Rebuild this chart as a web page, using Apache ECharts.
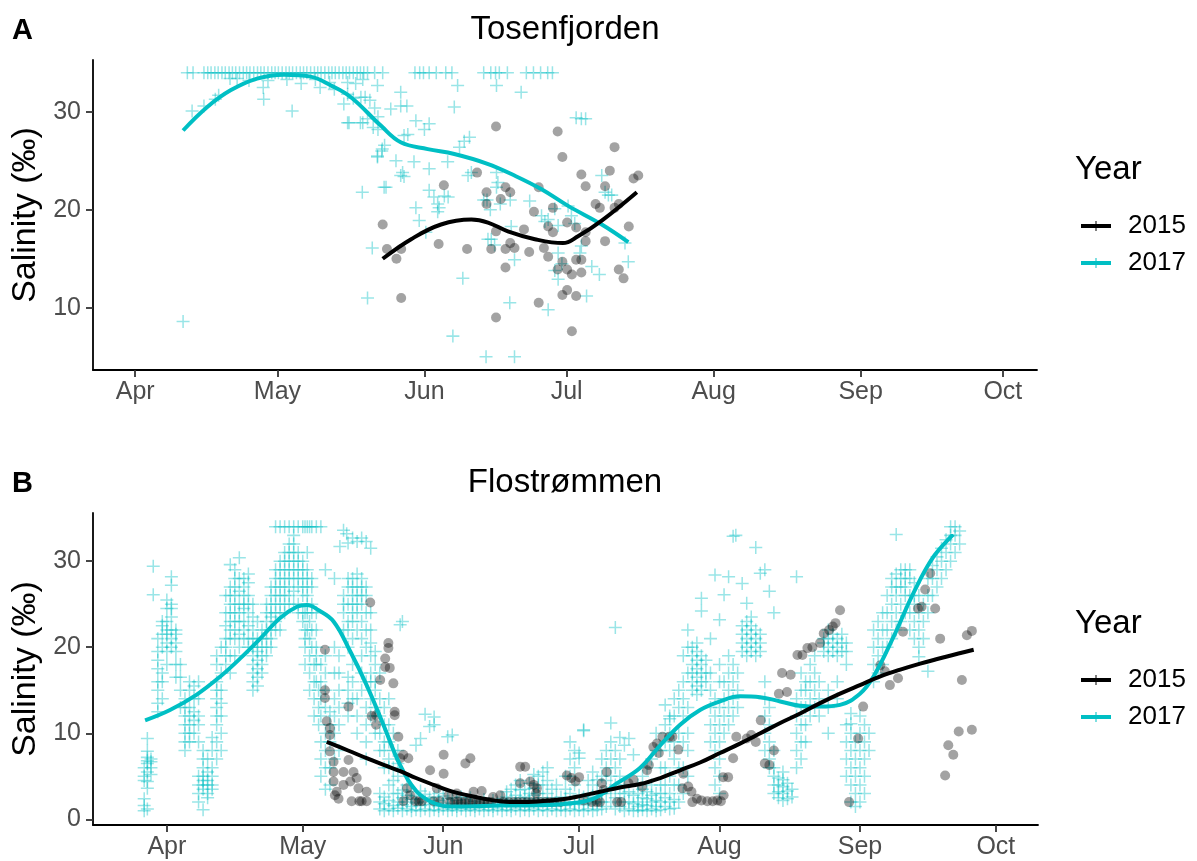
<!DOCTYPE html>
<html>
<head>
<meta charset="utf-8">
<script src="https://cdn.jsdelivr.net/npm/echarts@6/dist/echarts.min.js"></script>
<style>
  html, body { margin: 0; padding: 0; background: #fff; }
  #chart { width: 1197px; height: 861px; }
</style>
</head>
<body>
<div id="chart"></div>
<script>
// x values are days after 1 April; y values are salinity in permille.
const monthTicks = [0, 30, 61, 91, 122, 153, 183];
const monthLabels = ['Apr', 'May', 'Jun', 'Jul', 'Aug', 'Sep', 'Oct'];
const tosenTicks = [10, 20, 30];
const floTicks = [0, 10, 20, 30];

// Tosenfjorden, 2015 samples
const tosen2015 = [
  [52.2,18.5],[53.1,16.0],[56.1,16.0],[55.1,15.0],[56.1,11.0],[64.0,16.5],[65.1,22.5],[70.0,16.0],
  [72.1,23.8],[74.1,21.8],[74.1,20.6],[75.1,16.0],[76.1,28.5],[76.1,17.8],[77.1,21.1],[78.1,22.3],
  [79.1,21.8],[78.1,14.1],[78.1,16.0],[79.1,16.6],[80.0,16.1],[76.1,9.0],[82.0,18.0],[83.1,15.7],
  [84.1,19.8],[85.1,22.3],[85.1,10.5],[86.2,16.1],[87.1,18.3],[87.1,15.2],[88.1,20.2],[88.1,17.7],
  [89.1,28.0],[89.1,13.9],[90.1,25.4],[90.1,14.7],[91.1,18.7],[91.1,13.9],[90.1,11.3],[91.1,11.8],
  [92.1,13.4],[92.1,7.6],[93.0,18.2],[93.0,14.9],[93.0,11.2],[94.1,23.6],[94.1,14.9],[94.1,13.6],
  [95.0,22.4],[95.0,16.8],[95.0,17.7],[97.1,20.6],[98.0,20.2],[99.1,22.4],[99.1,16.8],[100.1,24.0],
  [101.1,26.4],[101.1,20.2],[102.0,13.9],[102.0,20.6],[103.0,13.0],[104.1,18.3],[105.1,23.2],[106.1,23.5]
];

// Tosenfjorden, 2017 samples
const tosen2017 = [
  [11,34],[12.2,34],[14.5,34],[15.3,34],[16,34],[16.8,34],[17.5,34],[18.3,34],[19,34],[19.8,34],
  [20.5,34],[21.2,34],[22,34],[22.8,34],[23.5,34],[24.2,34],[25,34],[25.8,34],[26.5,34],[27.2,34],
  [28,34],[28.8,34],[29.5,34],[30.2,34],[31,34],[31.8,34],[32.5,34],[33.2,34],[34,34],[34.8,34],
  [35.5,34],[36.2,34],[37,34],[37.8,34],[38.5,34],[39.2,34],[40,34],[40.8,34],[41.5,34],[42.2,34],
  [43,34],[43.8,34],[44.5,34],[45.2,34],[46,34],[46.8,34],[47.5,34],[48.2,34],[49,34],[50.5,34],
  [52.2,34],[59,34],[60,34],[60.8,34],[62,34],[63.5,34],[65.5,34],[66.8,34],[73.5,34],[75,34],
  [76,34],[76.8,34],[78.5,34],[82.5,34],[84,34],[85.5,34],[87,34],[88,34],
  [20,33.4],[24,33.2],[27,32.5],[28,33.2],[32,33.3],[35,32.9],[38,33.3],[41,33],[44.8,33.0],[46.5,32.9],[48,33.3],
  [10.1,8.6],[12.0,30.1],[14.5,30.6],[16.9,31.3],[17.6,31.7],[21.5,33.4],[27.1,31.3],[33.1,30.1],
  [44.8,31.8],[47.6,31.5],[48.5,31.5],[49.5,31.2],[50.5,30.4],[45.1,28.9],[48.0,28.9],[49.0,29.3],
  [50.2,28.4],[51.2,29.5],[51.2,28.2],[47.9,21.8],[50.0,16.1],[49.0,11.0],[51.1,25.4],[52.0,26.0],
  [52.6,26.6],[52.5,22.3],[55.0,25.0],[56.0,32.0],[56.4,23.8],[56.7,27.6],[51.1,32.7],[53.9,30.3],
  [56.0,30.6],[57.3,30.6],[59.2,29.1],[62.0,28.8],[67.3,30.5],[68.0,32.7],[76.2,32.7],[81.4,32.0],
  [94.1,29.3],[93,29.4],[95,29.3],[44.8,28.9],[47.5,28.9],[57.5,27.7],[61,28.2],[51.1,25.5],
  [52.1,26.2],[58.8,24.9],[62.0,24.2],[65.9,24.9],[68.4,26.4],[69.4,27.0],[70.5,27.4],[52.9,22.3],
  [56,23.5],[56.7,23.4],[62,22],[63,21.3],[63.8,20.6],[63.8,19.8],[64.1,20.2],[65.2,21.4],[66,21.3],
  [59.2,20.2],[59.9,18.9],[61.3,17.7],[70.2,23.5],[70.9,23.8],[76.2,23.8],[76.5,22.8],[76.2,22.3],
  [73.5,21.0],[74.2,21.0],[74.9,20.0],[77,20.6],[79.1,21.0],[74.4,17.0],[75.1,17.0],[75.8,16.4],
  [79.3,18.3],[80.0,14.9],[83.2,20.9],[85.7,19.4],[86.4,18.8],[87.1,19.0],[88.5,20.1],[89.2,18.4],
  [89.2,15.6],[90,14.5],[88.5,13.8],[89.2,12.9],[91.3,20.4],[92,19.4],[92.7,18.6],[93.8,15.6],
  [94.1,16.3],[98.4,23.5],[99.1,21.8],[99.8,21.5],[100.5,21.5],[96.3,14.2],[97.9,13.4],[95.2,11.2],
  [103.3,16.6],[104,14.7],[69.1,13.0],[79.0,10.5],[87.1,9.8],[67.0,7.1],[74.0,5.0],[80.0,5.0],
  [44,30.8],[46,31.4],[42,32.3],[39,32.5]
];

// Tosenfjorden, smoothed trends
const tosenSmooth2015 = [
  [52.2,15.0],[58.2,17.0],[64.5,18.5],[70.9,19.0],[74.4,18.7],[78.6,17.8],[84.3,17.0],[90.2,16.6],
  [93.4,17.3],[98.4,18.9],[105.8,21.8]
];
const tosenSmooth2017 = [
  [10.1,28.1],[15.2,30.5],[20.1,32.2],[25.7,33.4],[31.4,33.8],[37,33.6],[41.3,32.7],[45.5,31.5],
  [51.8,28.6],[56,26.9],[61.7,26.2],[67.3,25.7],[74.3,24.7],[80,23.5],[85.7,22.1],[91.3,20.4],
  [98.4,18.5],[104,16.7]
];

// Flostrømmen, 2015 samples
const flo2015 = [
  [34.9,19.7],[34.9,15.0],[34.9,14.1],[35.3,11.4],[36.0,10.6],[36.0,9.8],[36.0,7.9],[36.8,6.7],
  [36.8,5.5],[36.8,4.4],[37.5,3.2],[37.9,2.4],[37.1,2.8],[39.0,5.5],[39.0,4.0],[40.1,6.9],[40.1,13.1],
  [40.5,4.4],[41.2,5.5],[41.9,4.8],[42.3,3.6],[40.8,2.1],[43.0,2.1],[44.1,3.2],[44.1,2.1],[42.5,2.1],
  [44.9,25.2],[45.2,12.0],[46.2,12.1],[46.2,11.0],[47.1,16.2],[48.2,18.7],[48.2,17.7],[48.9,20.5],
  [48.9,19.9],[49.2,17.6],[50.0,15.8],[50.3,12.5],[50.3,12.1],[51.1,9.6],[51.5,7.1],[52.2,7.5],
  [53.3,7.1],[53.0,3.6],[53.7,2.8],[52.2,2.1],[54.8,2.1],[55.6,2.1],[56.3,2.1],[58.1,5.7],[59.6,3.6],
  [61.1,7.5],[61.1,5.3],[58.9,2.1],[60.3,2.1],[62.2,2.8],
  [62.5,2.0],[63.5,2.0],[64.3,2.0],[65.0,2.0],[65.8,2.0],[66.6,2.0],[67.5,2.0],[68.3,2.0],[69.2,2.0],
  [70.0,2.0],[70.8,2.0],[71.6,2.0],[65.9,6.5],[67.0,7.1],[67.7,3.2],[64,3.0],[69.5,3.3],[72,2.6],[73.6,2.8],
  [74.3,2.0],[75.5,2.0],[76.6,2.0],[77.5,2.0],[78.5,2.0],[79.5,2.0],[80.5,2.0],[81.5,2.0],[82.5,2.0],
  [83.5,2.0],[84.5,2.0],[85.5,2.0],[86.8,2.0],
  [78.0,6.1],[79.1,6.1],[78.0,4.2],[80.2,4.4],[81.0,4.0],[81.7,3.6],[81.5,3.0],
  [88.3,5.1],[89.3,4.8],[90.2,4.4],[91.0,4.9],[92.0,2.2],[93.8,2.0],[94.9,2.0],[95.6,2.0],[96.4,3.4],
  [96.0,4.2],[97.1,5.5],[99.4,2.0],[100.3,2.0],
  [101.9,4.2],[103.0,4.6],[104.9,3.8],[106.0,5.7],[106.4,6.3],[107.4,8.4],[108.2,8.8],[108.6,7.7],
  [109.4,9.6],[110.9,9.6],[111.6,9.6],[112.9,8.1],[114.0,5.3],[113.8,3.6],[115.1,3.8],[115.8,3.2],[116.0,2.0],
  [117.0,2.4],[118.0,2.2],[119.3,2.1],[120.5,2.1],[121.5,2.2],[122.3,2.1],[122.9,2.8],[122.8,4.9],[123.9,4.9],
  [125.0,7.1],[125.7,9.6],[128.0,9.4],[129.0,9.8],[130.0,9.0],[131.1,11.5],[132.0,6.5],[133.0,6.3],
  [134.0,8.0],[135.1,14.6],[136.9,14.8],[135.8,17.0],[137.7,16.8],[139.2,19.1],[140.3,19.1],[141.4,19.9],
  [142.5,20.0],[144.2,20.5],[145.0,21.6],[146.2,22.0],[147.0,22.4],[147.6,22.8],[148.6,24.3],[150.6,2.0],
  [152.6,9.4],[153.7,13.1],[157.5,17.9],[158.5,17.2],[159.6,15.6],[161.4,16.4],[162.5,21.8],[165.8,24.5],
  [166.6,24.7],[167.4,26.7],[168.5,28.6],[169.6,24.5],[170.7,21.0],[171.8,5.1],[172.5,8.6],[173.6,7.5],
  [174.8,10.2],[175.5,16.2],[176.6,21.4],[177.7,21.9],[177.7,10.4]
];

// Flostrømmen, 2017 samples grouped by day: [day, [salinities]]
const flo2017ByDay = [
  [-5,[1.0,1.6,2.4,4.5,5.0,6.0]],[-4.3,[1.2,3.6,4.4,5.5,6.5,6.8,7.2,7.9,9.4]],[-3.5,[5.2,6.0,6.7,7.0]],
  [-3,[29.4,26.1]],[-2,[12.5,13.5,15.0,16.0,17.5,18.5,19.5,21.0]],[-1,[14.0,16.0,17.0,20.0,21.5,22.5,23.0]],
  [0,[18.0,19.5,20.5,21.5,22.0,23.0,24.5,25.5]],[1,[20.0,21.0,22.0,23.5,24.5,25.0,27.2,28.2]],
  [2,[16.5,18.0,19.5,20.5,21.5,22.0]],[3,[13.0,15.0,16.5,18.0]],[4,[8,9,10,11,12,13,14]],
  [5,[9,10,11,12,13,15,16]],[6,[10,11.5,12.5,14,15.5]],[7,[2,3,4,5,9,11,12,14,16]],
  [8,[1.1,3.5,4,4.5,5,6,7,8]],[9,[2.5,3,4,4.5,5.5,7]],[10,[3.5,4,5,6,8,9.5]],
  [11,[7,9,11,12,13,14,15,16,18,19]],[12,[8,10,12,13.5,15,17,20]],[13,[18,19,20,21,22.5,24,26]],
  [14,[17,19,21,22,23,24,25,26,27,29.6]],[15,[19,21,22,23,24,25,26,27,28,29]],
  [16,[20,21.5,23,24,25,26.5,28,30.4]],[17,[21,22,23,24.5,25,26,27,28]],[18,[20,21,22.5,24,25,26,27.5,28.5]],
  [19,[15,16,17,18,19,20,21,22,23.5,25]],[20,[15.5,16.5,17.5,18.5,19.5,20,21,23]],[21,[17,18,19,20,21,22]],
  [22,[19,20,21,22,23,24,25]],[23,[20,21,22,23.5,24,25,26,27]],[24,[22,23,24,25,26,27,28,29,34]],
  [25,[22,24,25,26,27,28,29,30,34]],[26,[24,25,26,27,28,29,30,31,34]],[27,[25,26,27,28,29,30,31,32,34]],
  [28,[25,26.5,28,29,30,31,32,33,34]],[29,[24,25,27,28,29,30,31,34]],[30,[23,24,26,27,28,29,30,34]],
  [30.5,[18,20,21,22,24,34]],[31,[22,24,25,26,27,28,29,31,34]],[31.5,[15,17,19,21,23,34]],
  [32,[20,22,24,25,27,28,34]],[32.5,[12,14,16,18]],[33,[16,18,19,20,22,24,34]],[33.5,[11,13,15]],
  [34,[5,7,9,12,14,16,18,34]],[35,[3.5,6,8,10,13,15,17,19,29]],[36,[4,6,9,11,12.5]],
  [37,[7,10,12,14,17,20,28]],[38,[8,11,13,15,17,19]],[38.2,[31.7]],[39,[22,24,25,26,33.6]],[39.7,[33.2]],
  [40,[12,13.5,15,16.5,20,22,23,25,27,28,32.1]],[41,[14,16,18,21,23,24,25,26,27,28,32.7]],
  [42,[10,12,14,22,24,25,26,27,28.5,32.3]],[43,[15,17,19,21,23,25,26,27,28,32.7]],
  [44,[7,9,11,13,16,20,22,24,26,27,32.3]],[45,[12,14,16,17,19,20.5,22,24,31.5]],[46,[10,12,13,15,16,18,19.5]],
  [47,[1.2,2,3,8,10,12,14,17]],[48,[1,1.8,2.6,6,8,9,11,13]],[49,[1.2,2.2,4,6,7,9,11,14]],
  [50,[1,1.6,3,4.5,6,8,10]],[51,[1.3,2,3,5,6.5,8]],[51.5,[22.6]],[52,[1,1.7,2.5,3.4,23]],
  [53,[1.2,2,2.8,4]],[54,[1,1.5,2.3,3.2]],[55,[1.1,1.9,2.7,8.6]],[56,[1,1.6,2.4,3.3,9.4]],
  [57,[1.2,2,2.9,12.2]],[58,[1,1.7,2.5,10.8]],[59,[1.1,1.8,2.6,11.0,11.9]],[60,[1,1.5,2.2,3]],
  [61,[1.2,1.9,2.7]],[62,[1,1.6,2.4,9.6]],[63,[1.1,1.8,2.5,9.8]],[64,[1,1.5,2.2]],[65,[1.2,1.9,2.6]],
  [66,[1,1.6,2.3]],[67,[1.1,1.8,2.5]],[68,[1,1.5,2.1]],[69,[1.2,1.9]],[70,[1,1.6,2.3]],[71,[1.1,1.8]],
  [72,[1,1.5,2.2]],[73,[1.2,1.9]],[74,[1,1.6,2.4]],[75,[1.1,1.8,2.6,3.2]],[76,[1,1.5,2.3,3.5]],
  [77,[1.2,2,2.8,4]],[78,[1,1.7,2.5,3.4,4.5]],[79,[1.1,1.8,2.6,3.5]],[80,[1,1.6,2.4,3,4.2]],
  [81,[1.2,2,2.8,3.6,5.2]],[82,[1,1.8,3,4,5]],[83,[1.1,2.5,4,5.5]],[84,[1,1.9,3,4.5,6]],[85,[1.2,2,3.5]],
  [86,[1,1.7,2.5,4]],[87,[1.1,1.8,2.6]],[88,[1,1.6,2.4,3.5,5]],[89,[1.2,2,3,5,7,9]],[90,[1,1.8,2,4,6,8]],
  [91,[1.1,1.9,2.8,7.1,7.7]],[92,[1,1.7,2.6,10.3,10.4]],[93,[1.2,2,3,4.5]],[94,[1,1.8,2.7,4,5.5]],
  [95,[1.1,2,3.2,4.6]],[96,[1.2,2,3,5,7]],[97,[1.5,3,4.5,6,8]],[98,[2,3.5,5,7,9,11.2]],
  [99,[1.2,2.5,4,6,8,22.3]],[100,[1.5,3,5,7,9.5]],[101,[1,2,3,4,8.6]],[102,[1.2,2,3.2,9.4]],
  [103,[1,1.8,2.8,7.5]],[104,[1,1.5,2,3,4]],[105,[1.1,1.7,2.5,3.5,5]],[106,[1,1.6,2.4,3.2,6]],
  [107,[1.2,2,2.8,4,7]],[108,[1,1.5,2.2,3,8,10]],[109,[1.1,2,3,4,6,8]],[110,[1.5,2.5,4,6,9,11,13.3]],
  [111,[1.2,2,3,5,8,10,12,11.7]],[112,[1.3,2.3,4,7,9,12,14]],[113,[2,4,6,10,13,15]],
  [114,[3,6,9,12,14,16,19]],[115,[5,8,10,13,17,20,22]],[116,[15,16,17,18,19,20]],
  [117,[14.5,15.5,16.5,17.5,18.5,19.5,20.5]],[118,[15,16,17,18,19,24.2,25.7]],[119,[16,17,18.5]],
  [120,[9,11,13,15,17,21]],[121,[4,6,8,10,12,14,28.4]],[122,[3,5,7,9,11,13,16,18,23.2]],
  [123,[10,12,14,16,26.1]],[124,[11,13,15,17,19,28.2]],[125,[12,14,16,18,32.9]],[125.6,[33.0]],
  [126,[13,15,17]],[127,[19.5,20.5,21.5,22.5,27.4]],[128,[19,20,21,22,23,25.1]],
  [129,[19.5,20.5,21.5,22.5,23.5]],[130,[19,20,21,22,31.6]],[131,[19.5,20.5,21.5,28.6]],
  [132,[8,10,12,14,16,29]],[133,[6,7,9,11,13,26.5]],[134,[3,4,5,6,8,24]],[135,[2.5,3.2,4,4.8]],
  [136,[2.2,3,3.8,4.6,5.5]],[137,[2.4,3.3,4.2]],[138,[2.6,3.5]],[139,[6,8,10,12,14,28.2]],
  [140,[7,9,11,13,15,17]],[141,[9,11,13,15,16]],[142,[12,14,16,18]],[143,[13,15,17,19]],
  [144,[12,14,16]],[145,[19.5,20.5,21]],[146,[10,13,15,19,20,21,22]],[147,[19.5,20.5,21.5]],
  [148,[14,16,19,20,21]],[149,[19.5,20.5,21.5]],[150,[5,7,9,11,18,19.5,20.5]],
  [151,[2,4,6,8,10,11.1,12.3]],[152,[1.5,3,5,7,9]],[153,[2,4,6,8,10,12]],[154,[3,5,7,9,11]],
  [155,[8,10]],[156,[16,18,20,22]],[157,[17,19,21,23]],[158,[18,20,22,24]],[159,[20,22,24,26]],
  [160,[21,23,25,27,28]],[161,[22,24,26,27,28.5,33.1]],[162,[23,25,27,28,29]],[163,[24,26,27,28,29]],
  [164,[22,24,26,28,29]],[165,[21,23,25,26,27.5]],[166,[18.9,20,22,24,26]],[167,[21,23,25]],
  [168,[17.2,24,26,28]],[169,[26,28,29.5]],[170,[27,29,30.5]],[171,[28,30,31.5]],[172,[29,31,32.5]],
  [173,[30,32,33,34]],[174,[31,33,34]],[175,[32,33.5]]
];

// Flostrømmen, smoothed trends
const floSmooth2015 = [
  [35.3,9.0],[40,8.0],[44.1,7.1],[48,6.3],[51.5,5.6],[55,4.8],[58.9,4.0],[62.5,3.3],[66.3,2.8],
  [70,2.4],[73.6,2.1],[78,2.0],[82.4,2.1],[86.8,2.3],[91.2,2.7],[95.6,3.2],[100,3.7],[104.5,4.1],
  [108.9,4.8],[113.3,5.7],[117.7,6.6],[122.1,7.7],[126.5,8.8],[131,10.0],[135.4,11.2],[139.8,12.3],
  [144.2,13.5],[148.6,14.6],[153,15.6],[157.5,16.6],[161.9,17.4],[166.3,18.1],[172,18.9],[178.1,19.7]
];
const floSmooth2017 = [
  [-4.8,11.5],[0.7,12.7],[6.6,14.5],[11.8,16.6],[16.2,18.7],[20.6,21.0],[25.0,23.4],[28.7,24.7],
  [30.9,24.9],[33.5,24.3],[36.8,23.0],[40.5,19.5],[44.1,15.6],[47.8,11.0],[51.5,6.3],[55.2,3.2],
  [58.9,1.9],[62.5,1.5],[66.3,1.5],[73.6,1.6],[80,1.6],[88.3,1.8],[94.2,2.4],[99.4,4.2],[104.5,6.0],
  [108.9,8.6],[113.3,11.0],[117.7,12.7],[122.1,13.7],[126.5,14.3],[131.0,14.2],[135.4,13.7],
  [139.8,13.2],[144.2,13.1],[148.6,13.3],[153.0,14.6],[156.0,16.6],[160.4,21.2],[164.8,26.3],
  [169.2,30.5],[173.6,33.1]
];

const flo2017 = flo2017ByDay.flatMap(([d, vals]) => vals.map(v => [d, v]));

const FONT = '"Liberation Sans", Arial, sans-serif';
const TEAL = '#00BFC4';
const CROSS = 'path://M0,5.3H12V6.7H0Z M5.3,0H6.7V12H5.3Z';
const KEY = 'path://M0,5H30V9H0Z M14.5,2H15.5V12H14.5Z';

function xAxisFor(gridIndex, min, max) {
  return {
    type: 'value', gridIndex, min, max,
    splitLine: { show: false },
    axisLine: { show: true, onZero: false, lineStyle: { color: '#000', width: 1.8 } },
    axisTick: { show: true, customValues: monthTicks, length: 7, lineStyle: { color: '#333', width: 1.8 } },
    axisLabel: {
      customValues: monthTicks,
      formatter: v => monthLabels[monthTicks.indexOf(Math.round(v))],
      color: '#4D4D4D', fontSize: 25, fontFamily: FONT, margin: 10
    }
  };
}

function yAxisFor(gridIndex, min, max, ticks) {
  return {
    type: 'value', gridIndex, min, max,
    name: 'Salinity (‰)', nameLocation: 'middle', nameGap: 47, nameRotate: 90,
    nameTextStyle: { fontSize: 34, color: '#000', fontFamily: FONT },
    splitLine: { show: false },
    axisLine: { show: true, onZero: false, lineStyle: { color: '#000', width: 1.8 } },
    axisTick: { show: true, customValues: ticks, length: 7, lineStyle: { color: '#333', width: 1.8 } },
    axisLabel: { customValues: ticks, color: '#4D4D4D', fontSize: 25, fontFamily: FONT, margin: 12 }
  };
}

function legendAt(top) {
  return {
    orient: 'vertical', left: 1076, top,
    icon: KEY, itemWidth: 30, itemHeight: 14, itemGap: 11,
    selectedMode: false,
    textStyle: { fontSize: 26, color: '#000', fontFamily: FONT, padding: [0, 0, 0, 12], lineHeight: 26 },
    data: [
      { name: '2015', itemStyle: { color: '#000', opacity: 1 } },
      { name: '2017', itemStyle: { color: TEAL, opacity: 1 } }
    ]
  };
}

function scatter(name, idx, data, isCross) {
  return {
    type: 'scatter', name, xAxisIndex: idx, yAxisIndex: idx, data,
    symbol: isCross ? CROSS : 'circle',
    symbolSize: isCross ? 13 : 10,
    itemStyle: { color: isCross ? 'rgba(0,191,196,0.5)' : 'rgba(0,0,0,0.45)' },
    silent: true, z: isCross ? 2 : 3
  };
}

function trend(name, idx, data, color) {
  return {
    type: 'line', name, xAxisIndex: idx, yAxisIndex: idx, data,
    smooth: 0.4, showSymbol: false, symbol: 'none',
    lineStyle: { color, width: 4 }, itemStyle: { color },
    silent: true, z: 5
  };
}

function label(text, x, y, size, weight, align) {
  return {
    type: 'text', x, y, silent: true,
    style: { text, fontSize: size, fontWeight: weight, fontFamily: FONT, fill: '#000',
             align: align, verticalAlign: 'middle' }
  };
}

const chart = echarts.init(document.getElementById('chart'), null, { renderer: 'canvas' });
chart.setOption({
  animation: false,
  backgroundColor: '#fff',
  grid: [
    { left: 93, top: 60, width: 944, height: 310 },
    { left: 93, top: 513, width: 945, height: 312 }
  ],
  xAxis: [xAxisFor(0, -8.9, 190.2), xAxisFor(1, -16.3, 192.3)],
  yAxis: [yAxisFor(0, 3.64, 35.3, tosenTicks), yAxisFor(1, -0.66, 35.6, floTicks)],
  legend: [legendAt(208), legendAt(662)],
  graphic: [
    label('A', 12, 31, 29, 'bold', 'left'),
    label('B', 12, 484, 29, 'bold', 'left'),
    label('Tosenfjorden', 565, 30, 33, 'normal', 'center'),
    label('Flostrømmen', 565, 483, 33, 'normal', 'center'),
    label('Year', 1075, 170, 33, 'normal', 'left'),
    label('Year', 1075, 624, 33, 'normal', 'left')
  ],
  series: [
    scatter('2017', 0, tosen2017, true),
    scatter('2015', 0, tosen2015, false),
    trend('2017', 0, tosenSmooth2017, TEAL),
    trend('2015', 0, tosenSmooth2015, '#000'),
    scatter('2017', 1, flo2017, true),
    scatter('2015', 1, flo2015, false),
    trend('2017', 1, floSmooth2017, TEAL),
    trend('2015', 1, floSmooth2015, '#000')
  ]
});
</script>
</body>
</html>
